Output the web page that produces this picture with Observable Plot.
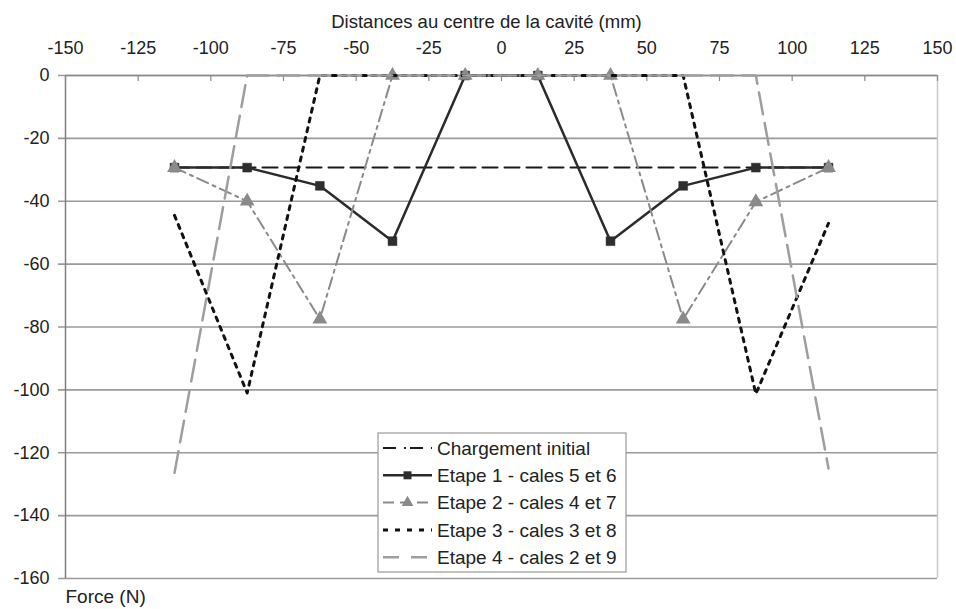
<!DOCTYPE html>
<html>
<head>
<meta charset="utf-8">
<script src="https://cdn.jsdelivr.net/npm/d3@7"></script>
<script src="https://cdn.jsdelivr.net/npm/@observablehq/plot@0.6"></script>
<style>
  html, body { margin: 0; padding: 0; background: #fff; }
  #chart svg { display: block; }
</style>
</head>
<body>
<div id="chart"></div>
<script>
// ---- Data ----
const positions = [-112.5, -87.5, -62.5, -37.5, -12.5, 12.5, 37.5, 62.5, 87.5, 112.5];
const chargementInitial = [-29.3, -29.3, -29.3, -29.3, -29.3, -29.3, -29.3, -29.3, -29.3, -29.3];
const etape1 = [-29.3, -29.3, -35.1, -52.7, 0, 0, -52.7, -35.1, -29.3, -29.3];
const etape2 = [-29.3, -40, -77.5, 0, 0, 0, 0, -77.5, -40.2, -29.3];
const etape3 = [-44.5, -101, 0, 0, 0, 0, 0, 0, -101.3, -47];
const etape4 = [-126.4, 0, 0, 0, 0, 0, 0, 0, 0, -125];
const seriesNames = [
  "Chargement initial",
  "Etape 1 - cales 5 et 6",
  "Etape 2 - cales 4 et 7",
  "Etape 3 - cales 3 et 8",
  "Etape 4 - cales 2 et 9"
];
const xTicks = [-150, -125, -100, -75, -50, -25, 0, 25, 50, 75, 100, 125, 150];
const yTicks = [0, -20, -40, -60, -80, -100, -120, -140, -160];
const xTitle = "Distances au centre de la cavité (mm)";
const yTitle = "Force (N)";

// ---- Build tables ----
const toRows = (vals) => positions.map((x, i) => ({x, y: vals[i]}));
const rows0 = toRows(chargementInitial);
const rows1 = toRows(etape1);
const rows2 = toRows(etape2);
const rows3 = toRows(etape3);
const rows4 = toRows(etape4);

const styles = [
  {stroke: "#1a1a1a", strokeWidth: 2, strokeDasharray: "15,7"},
  {stroke: "#2b2b2b", strokeWidth: 2.5, strokeDasharray: null},
  {stroke: "#8a8a8a", strokeWidth: 2, strokeDasharray: "12,5,3,5"},
  {stroke: "#111111", strokeWidth: 3, strokeDasharray: "4,6"},
  {stroke: "#9e9e9e", strokeWidth: 2.5, strokeDasharray: "22,9"}
];
const legendDash = ["13,8,2,4", null, "11,6,0,0", "5,7", "16,12"];

const W = 956, H = 609;
const mL = 65, mR = 19, mT = 75, mB = 31;
const plotH = H - mT - mB;
const font = '"Liberation Sans", Arial, Helvetica, sans-serif';

const chart = Plot.plot({
  width: W,
  height: H,
  marginLeft: mL,
  marginRight: mR,
  marginTop: mT,
  marginBottom: mB,
  x: {domain: [-150, 150]},
  y: {domain: [-160, 0]},
  style: {fontFamily: font, fontSize: "18px", color: "#222", background: "#fff"},
  marks: [
    Plot.gridY(yTicks, {stroke: "#9a9a9a", strokeOpacity: 1, strokeWidth: 1.6, insetLeft: -7}),
    Plot.ruleX([150], {stroke: "#c8c8c8", strokeWidth: 1.5}),
    Plot.ruleX([-150], {stroke: "#808080", strokeWidth: 1.5}),
    Plot.ruleY([0], {stroke: "#8a8a8a", strokeWidth: 1.6}),
    Plot.ruleX(xTicks, {x: d => d, stroke: "#8a8a8a", strokeWidth: 1.2, insetBottom: plotH - 6}),
    Plot.axisX({anchor: "top", ticks: xTicks, tickSize: 0, tickPadding: 22, label: null, tickFormat: d => String(d), fill: "#222"}),
    Plot.axisY({anchor: "left", ticks: yTicks, tickSize: 0, tickPadding: 16, label: null, tickFormat: d => String(d), fill: "#222"}),
    Plot.lineY(rows0, {x: "x", y: "y", ...styles[0]}),
    Plot.lineY(rows1, {x: "x", y: "y", ...styles[1]}),
    Plot.dot(rows1, {x: "x", y: "y", symbol: "square", r: 5, fill: "#2e2e2e", stroke: "#2e2e2e", strokeWidth: 0.5}),
    Plot.lineY(rows2, {x: "x", y: "y", ...styles[2]}),
    Plot.dot(rows2, {x: "x", y: "y", symbol: "triangle", r: 5.5, fill: "#8a8a8a", stroke: "none"}),
    Plot.lineY(rows3, {x: "x", y: "y", ...styles[3]}),
    Plot.lineY(rows4, {x: "x", y: "y", ...styles[4]}),
    Plot.text([xTitle], {frameAnchor: "top", text: d => d, dx: -15, dy: -48, fontSize: 18.5, fill: "#222", lineAnchor: "bottom"}),
    Plot.text([yTitle], {frameAnchor: "bottom-left", text: d => d, dy: 11, fontSize: 19, fill: "#222", textAnchor: "start", lineAnchor: "top"})
  ]
});

// ---- Legend (inside the plot area) ----
const svg = d3.select(chart);
const lg = svg.append("g").attr("transform", "translate(378,433)");
lg.append("rect")
  .attr("x", 0).attr("y", 0).attr("width", 248).attr("height", 139)
  .attr("fill", "#fff").attr("stroke", "#9a9a9a").attr("stroke-width", 1.2);
seriesNames.forEach((name, i) => {
  const cy = 15 + i * 27.3;
  const s = styles[i];
  const line = lg.append("line")
    .attr("x1", 5).attr("x2", 54).attr("y1", cy).attr("y2", cy)
    .attr("stroke", s.stroke).attr("stroke-width", s.strokeWidth);
  if (legendDash[i]) line.attr("stroke-dasharray", legendDash[i]);
  if (i === 1) {
    lg.append("rect").attr("x", 25.5).attr("y", cy - 4).attr("width", 8).attr("height", 8).attr("fill", "#2e2e2e");
  }
  if (i === 2) {
    lg.append("path").attr("d", d3.symbol(d3.symbolTriangle, 60)()).attr("transform", `translate(29.5,${cy})`).attr("fill", "#8a8a8a");
  }
  lg.append("text")
    .attr("x", 59).attr("y", cy)
    .attr("dy", "0.35em")
    .attr("text-anchor", "start")
    .attr("font-family", font)
    .attr("font-size", 19)
    .attr("fill", "#222")
    .text(name);
});

document.getElementById("chart").appendChild(chart);
</script>
</body>
</html>
